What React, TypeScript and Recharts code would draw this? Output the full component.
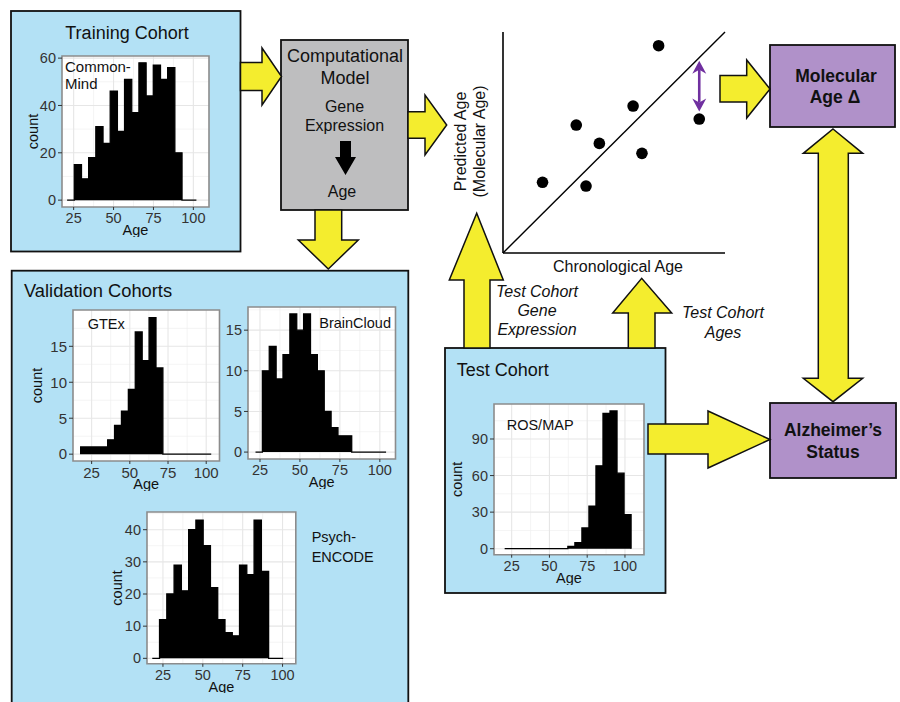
import React from "react";
import {
  AreaChart,
  Area,
  XAxis,
  YAxis,
  CartesianGrid,
  ReferenceArea,
  ReferenceLine,
  ScatterChart,
  Scatter,
  Label,
} from "recharts";

const FONT = "'Liberation Sans', Arial, Helvetica, sans-serif";
const BLUE = "#b3e1f5";
const YELLOW = "#f4ed2e";
const GREY_BOX = "#bebebf";
const PURPLE_BOX = "#b091c9";
const PURPLE = "#7030a0";
const INK = "#111";

// histogram counts per bin; bins = [first bin edge (age), bin width (years)]
const commonMindCounts = [0, 15, 9, 18, 31, 24, 46, 29, 51, 37, 58, 44, 57, 51, 56, 20, 0, 0];
const commonMindBins = [20.9, 4.5];
const gtexCounts = [1, 1, 1, 1, 2, 4, 6, 9, 17, 13, 19, 12, 0, 0, 0, 0, 0, 0, 0];
const gtexBins = [17.4, 4.52];
const brainCloudCounts = [0, 10, 13, 9, 12, 17, 15, 17, 12, 10, 5, 3, 2, 2, 0, 0, 0, 0, 0];
const brainCloudBins = [22.2, 4.3];
const psychEncodeCounts = [0, 12, 20, 29, 21, 40, 43, 35, 22, 12, 8, 7, 29, 26, 43, 27, 0, 0];
const psychEncodeBins = [18.3, 4.56];
const rosmapCounts = [0, 0, 0, 0, 0, 0, 0, 0, 0, 2, 5, 17, 35, 68, 111, 113, 62, 28];
const rosmapBins = [20.35, 4.65];

const ageTicks = [25, 50, 75, 100];

// schematic scatter (chronological vs predicted age, arbitrary units)
const chronAge = [17.8, 37.4, 33.0, 43.4, 58.6, 62.6, 70.1, 88.4];
const predAge = [32.0, 30.3, 57.9, 49.6, 66.5, 45.1, 93.8, 60.6];
const deltaFrom = 87;
const deltaTo = 64;

type HistProps = {
  counts: number[];
  bins: number[];
  plot: [number, number, number, number];
  xDomain: [number, number];
  yDomain: [number, number];
  yTicks: number[];
  tickFont?: number;
  countGap?: number;
};

function minorOf(ticks: number[], max: number) {
  const out = ticks.slice(1).map((t, i) => (t + ticks[i]) / 2);
  const step = ticks[1] - ticks[0];
  const extra = ticks[ticks.length - 1] + step / 2;
  if (extra < max) out.push(extra);
  return out;
}

function Hist({ counts, bins, plot, xDomain, yDomain, yTicks, tickFont = 14.5, countGap }: HistProps) {
  const [start, width] = bins;
  const data = [...counts, 0].map((c, i) => ({ age: start + i * width, count: c }));
  const [px, py, pw, ph] = plot;
  const yw = 52;
  const xh = 30;
  const mt = 10;
  const xMinor = minorOf(ageTicks, xDomain[1]).filter((v) => v > xDomain[0]);
  const yMinor = minorOf(yTicks, yDomain[1]);

  return (
    <div style={{ position: "absolute", left: px - yw, top: py - mt }}>
      <AreaChart
        width={pw + yw + 4}
        height={ph + xh + mt}
        data={data}
        margin={{ top: mt, right: 4, bottom: 0, left: 0 }}
      >
        <CartesianGrid
          fill="#fff"
          stroke="#efefef"
          strokeWidth={0.7}
          verticalValues={xMinor}
          horizontalValues={yMinor}
        />
        <CartesianGrid
          stroke="#e6e6e6"
          strokeWidth={1.1}
          verticalValues={ageTicks}
          horizontalValues={yTicks}
        />
        <XAxis
          dataKey="age"
          type="number"
          domain={xDomain}
          ticks={ageTicks}
          interval={0}
          allowDataOverflow
          axisLine={false}
          tickSize={3}
          tickMargin={3}
          tickLine={{ stroke: "#333" }}
          tick={{ fill: "#333", fontSize: tickFont }}
          height={xh}
        >
          <Label value="Age" position="insideBottom" offset={2} fill={INK} fontSize={14.5} />
        </XAxis>
        <YAxis
          type="number"
          domain={yDomain}
          ticks={yTicks}
          interval={0}
          allowDataOverflow
          axisLine={false}
          tickSize={4}
          tickMargin={2}
          tickLine={{ stroke: "#333" }}
          tick={{ fill: "#333", fontSize: tickFont }}
          width={yw}
        >
          {countGap ? (
            <Label
              content={(p: any) => {
                const vb = p.viewBox;
                const x = vb.x + vb.width - countGap;
                const y = vb.y + vb.height / 2;
                return (
                  <text
                    x={x}
                    y={y}
                    transform={`rotate(-90 ${x} ${y})`}
                    textAnchor="middle"
                    dominantBaseline="central"
                    fontSize={14.5}
                    fill={INK}
                  >
                    count
                  </text>
                );
              }}
            />
          ) : null}
        </YAxis>
        <Area
          type="stepAfter"
          dataKey="count"
          stroke="#000"
          strokeWidth={1.3}
          fill="#000"
          fillOpacity={1}
          baseValue={0}
          dot={false}
          activeDot={false}
          isAnimationActive={false}
        />
        <ReferenceArea
          x1={xDomain[0]}
          x2={xDomain[1]}
          y1={yDomain[0]}
          y2={yDomain[1]}
          fill="none"
          stroke="#8c8c8c"
          strokeWidth={1.6}
          ifOverflow="visible"
        />
      </AreaChart>
    </div>
  );
}

function DeltaArrow(p: any) {
  const x = p.x1;
  const top = Math.min(p.y1, p.y2);
  const bot = Math.max(p.y1, p.y2);
  const hl = 13;
  const hw = 7;
  return (
    <g>
      <line x1={x} y1={top + hl - 4} x2={x} y2={bot - hl + 4} stroke={PURPLE} strokeWidth={2.6} />
      <polygon
        points={`${x},${top} ${x + hw},${top + hl} ${x},${top + hl - 4} ${x - hw},${top + hl}`}
        fill={PURPLE}
      />
      <polygon
        points={`${x},${bot} ${x + hw},${bot - hl} ${x},${bot - hl + 4} ${x - hw},${bot - hl}`}
        fill={PURPLE}
      />
    </g>
  );
}

function AgeScatter() {
  const points = chronAge.map((c, i) => ({ chron: c, pred: predAge[i] }));
  return (
    <div style={{ position: "absolute", left: 440, top: 25 }}>
      <ScatterChart width={290} height={253} margin={{ top: 7, right: 5, bottom: 0, left: 0 }}>
        <XAxis
          type="number"
          dataKey="chron"
          domain={[0, 100]}
          allowDataOverflow
          tick={false}
          tickLine={false}
          axisLine={{ stroke: "#000", strokeWidth: 1.6 }}
          height={25}
        >
          <Label
            content={(p: any) => {
              const vb = p.viewBox;
              return (
                <text x={vb.x + vb.width / 2 + 4} y={vb.y + 19} textAnchor="middle" fontSize={16} fill={INK}>
                  Chronological Age
                </text>
              );
            }}
          />
        </XAxis>
        <YAxis
          type="number"
          dataKey="pred"
          domain={[0, 100]}
          allowDataOverflow
          tick={false}
          tickLine={false}
          axisLine={{ stroke: "#000", strokeWidth: 1.6 }}
          width={63}
        >
          <Label
            content={(p: any) => {
              const vb = p.viewBox;
              const cy = vb.y + vb.height / 2 - 1;
              const x1 = vb.x + 26;
              const x2 = vb.x + 44.5;
              return (
                <g fontSize={16} fill={INK}>
                  <text x={x1} y={cy} transform={`rotate(-90 ${x1} ${cy})`} textAnchor="middle">
                    Predicted Age
                  </text>
                  <text x={x2} y={cy} transform={`rotate(-90 ${x2} ${cy})`} textAnchor="middle">
                    (Molecular Age)
                  </text>
                </g>
              );
            }}
          />
        </YAxis>
        <ReferenceLine
          segment={[
            { x: 0, y: 0 },
            { x: 100, y: 100 },
          ]}
          stroke="#000"
          strokeWidth={1.4}
          ifOverflow="visible"
        />
        <Scatter
          data={points}
          fill="#000"
          isAnimationActive={false}
          shape={(s: any) => <circle cx={s.cx} cy={s.cy} r={5.8} fill="#000" />}
        />
        <ReferenceLine
          segment={[
            { x: chronAge[7], y: deltaFrom },
            { x: chronAge[7], y: deltaTo },
          ]}
          ifOverflow="visible"
          shape={DeltaArrow}
        />
      </ScatterChart>
    </div>
  );
}

function Boxes() {
  const arrow = { fill: YELLOW, stroke: INK, strokeWidth: 1.5, strokeLinejoin: "miter" as const };
  const box = { stroke: INK, strokeWidth: 1.8 };
  return (
    <svg width={900} height={702} style={{ position: "absolute", left: 0, top: 0 }}>
      <rect x={11} y={11} width={229.5} height={240.5} fill={BLUE} {...box} />
      <rect x={281} y={40} width={127} height={170} fill={GREY_BOX} {...box} />
      <rect x={11.7} y={270.7} width={396.6} height={450} fill={BLUE} {...box} />
      <rect x={445} y={348} width={220.5} height={245} fill={BLUE} {...box} />
      <rect x={770} y={45} width={125} height={82} fill={PURPLE_BOX} {...box} />
      <rect x={770} y={403} width={126} height={75} fill={PURPLE_BOX} {...box} />

      {/* gene expression -> age, inside the model box */}
      <polygon points="340,141 351,141 351,157 356,157 345.5,175 335,157 340,157" fill="#000" />

      <polygon points="240.5,62.5 262,62.5 262,48 281.5,76.5 262,105 262,90.5 240.5,90.5" {...arrow} />
      <polygon points="315,210 341.7,210 341.7,240 358.3,240 328.3,269 298.3,240 315,240" {...arrow} />
      <polygon points="408,111.7 425,111.7 425,95 446.7,125 425,155 425,138.3 408,138.3" {...arrow} />
      <polygon points="464,348 464,280 449.3,280 476.7,213.3 503.3,280 490,280 490,348" {...arrow} />
      <polygon points="628.3,348 628.3,313 612.7,313 641.7,278.3 671.7,313 655,313 655,348" {...arrow} />
      <polygon points="720,75.5 746.7,75.5 746.7,60 770,89 746.7,118 746.7,102 720,102" {...arrow} />
      <polygon
        points="833,129 862.7,153.3 848.3,153.3 848.3,378.3 862.7,378.3 833,401.7 803.3,378.3 818.3,378.3 818.3,153.3 803.3,153.3"
        {...arrow}
      />
      <polygon points="648,424 708,424 708,411 770,439.5 708,468 708,454 648,454" {...arrow} />
    </svg>
  );
}

function Texts() {
  return (
    <svg
      width={900}
      height={702}
      style={{ position: "absolute", left: 0, top: 0, pointerEvents: "none" }}
      fill={INK}
    >
      <text x={127} y={39} fontSize={18} textAnchor="middle">Training Cohort</text>
      <text x={65} y={71.5} fontSize={15}>Common-</text>
      <text x={65} y={89} fontSize={15}>Mind</text>

      <text x={24} y={297} fontSize={18.3}>Validation Cohorts</text>
      <text x={87.7} y={329} fontSize={14.5}>GTEx</text>
      <text x={391} y={328.3} fontSize={14.5} textAnchor="end">BrainCloud</text>
      <text x={311.7} y={542.3} fontSize={14.5}>Psych-</text>
      <text x={311.7} y={561.7} fontSize={14.5}>ENCODE</text>

      <text x={456.7} y={376} fontSize={18}>Test Cohort</text>
      <text x={506.7} y={430} fontSize={14.5}>ROS/MAP</text>

      <g textAnchor="middle">
        <text x={345} y={62} fontSize={18}>Computational</text>
        <text x={345} y={83.5} fontSize={18}>Model</text>
        <text x={344.5} y={111.7} fontSize={16}>Gene</text>
        <text x={344.5} y={131} fontSize={16}>Expression</text>
        <text x={342} y={196.7} fontSize={16}>Age</text>

        <text x={836} y={81.5} fontSize={17.5} fontWeight="bold">Molecular</text>
        <text x={835} y={102.5} fontSize={17.5} fontWeight="bold">Age Δ</text>
        <text x={833} y={436} fontSize={17.5} fontWeight="bold">Alzheimer’s</text>
        <text x={833} y={457.5} fontSize={17.5} fontWeight="bold">Status</text>

        <g fontStyle="italic" fontSize={16}>
          <text x={537} y={296.7}>Test Cohort</text>
          <text x={537} y={316}>Gene</text>
          <text x={537} y={335}>Expression</text>
          <text x={723} y={318.3}>Test Cohort</text>
          <text x={723} y={338.3}>Ages</text>
        </g>
      </g>
    </svg>
  );
}

export default function App() {
  return (
    <div
      style={{
        position: "absolute",
        left: 0,
        top: 0,
        width: 900,
        height: 702,
        background: "#fff",
        overflow: "hidden",
        fontFamily: FONT,
      }}
    >
      <Boxes />
      <Hist
        counts={commonMindCounts}
        bins={commonMindBins}
        plot={[62, 56, 147, 151]}
        xDomain={[17.7, 109.8]}
        yDomain={[-2.9, 60.9]}
        yTicks={[0, 20, 40, 60]}
        countGap={29}
      />
      <Hist
        counts={gtexCounts}
        bins={gtexBins}
        plot={[72.5, 309.5, 146.5, 151]}
        xDomain={[12.8, 108.7]}
        yDomain={[-0.95, 20.05]}
        yTicks={[0, 5, 10, 15]}
        tickFont={15}
        countGap={36}
      />
      <Hist
        counts={brainCloudCounts}
        bins={brainCloudBins}
        plot={[247.5, 306.5, 147.5, 152]}
        xDomain={[17.5, 109.8]}
        yDomain={[-0.85, 17.85]}
        yTicks={[0, 5, 10, 15]}
      />
      <Hist
        counts={psychEncodeCounts}
        bins={psychEncodeBins}
        plot={[146.7, 511.7, 148.8, 151.8]}
        xDomain={[15, 108.3]}
        yDomain={[-1.7, 45.5]}
        yTicks={[0, 10, 20, 30, 40]}
        countGap={30}
      />
      <Hist
        counts={rosmapCounts}
        bins={rosmapBins}
        plot={[494, 404.3, 150, 150.7]}
        xDomain={[13.3, 112.6]}
        yDomain={[-4.9, 118.7]}
        yTicks={[0, 30, 60, 90]}
        countGap={37}
      />
      <AgeScatter />
      <Texts />
    </div>
  );
}
